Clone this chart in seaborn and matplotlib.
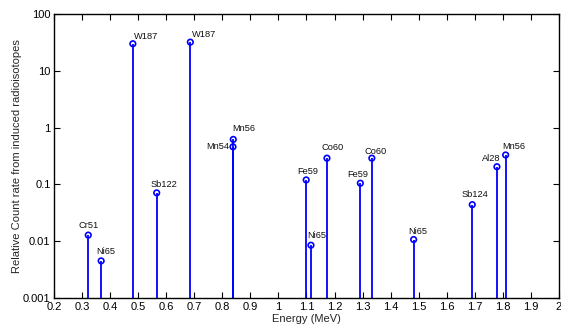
import numpy as np
import pandas as pd
import matplotlib
matplotlib.use('Agg')
import matplotlib.pyplot as plt
import matplotlib.ticker as mticker
import seaborn as sns

# gamma lines from induced radioisotopes
isotopes = ['Cr51', 'Ni65', 'W187', 'Sb122', 'W187', 'Mn54', 'Mn56', 'Fe59',
            'Ni65', 'Co60', 'Fe59', 'Co60', 'Ni65', 'Sb124', 'Al28', 'Mn56']
energy = [0.322, 0.368, 0.481, 0.566, 0.686, 0.838, 0.839, 1.099,
          1.116, 1.173, 1.292, 1.333, 1.482, 1.691, 1.779, 1.810]
rate = [0.0128, 0.0045, 30.0, 0.071, 32.0, 0.46, 0.62, 0.12,
        0.0085, 0.29, 0.105, 0.29, 0.0107, 0.044, 0.205, 0.33]

# label placement (pixel offsets from marker, alignment)
label_pos = [(0, 10, 'center'), (5, 9, 'center'), (13, 7, 'center'), (7, 8, 'center'),
             (14, 8, 'center'), (-4, 0, 'right'), (10, 11, 'center'), (2, 8, 'center'),
             (6, 10, 'center'), (6, 11, 'center'), (-3, 9, 'center'), (4, 7, 'center'),
             (4, 8, 'center'), (3, 10, 'center'), (-6, 8, 'center'), (8, 8, 'center')]

df = pd.DataFrame({'isotope': isotopes, 'energy': energy, 'rate': rate})

sns.set_style('ticks')
plt.rcParams['font.family'] = ['Liberation Sans', 'DejaVu Sans']
plt.rcParams['font.size'] = 8

fig = plt.figure(figsize=(5.61, 3.26), dpi=100)
ax = fig.add_axes([0.0963, 0.0859, 0.900, 0.871])

ymin = 0.001
ax.vlines(df['energy'], ymin, df['rate'], color='#0000ff', linewidth=1.3)
sns.scatterplot(data=df, x='energy', y='rate', ax=ax, marker='o', s=16,
                facecolor='none', edgecolor='#0000ff', linewidth=1.2, zorder=3)

for (name, e, r), (dx, dy, ha) in zip(zip(isotopes, energy, rate), label_pos):
    ax.annotate(name, (e, r), xytext=(dx, dy), textcoords='offset pixels',
                ha=ha, va='center', fontsize=6.7, color='#111111')

ax.set_yscale('log')
ax.set_xlim(0.2, 2.0)
ax.set_ylim(ymin, 100)
ax.xaxis.set_major_locator(mticker.MultipleLocator(0.1))
ax.xaxis.set_major_formatter(mticker.FormatStrFormatter('%g'))
ax.yaxis.set_major_locator(mticker.LogLocator(base=10, numticks=10))
ax.yaxis.set_minor_locator(mticker.NullLocator())
ax.yaxis.set_major_formatter(mticker.FuncFormatter(lambda v, p: '%g' % v))

ax.tick_params(which='both', direction='in', top=True, right=True, length=4,
               width=0.8, labelsize=8, colors='black')
ax.tick_params(axis='x', pad=3)
ax.tick_params(axis='y', pad=2.5)
for sp in ax.spines.values():
    sp.set_linewidth(1.0)
    sp.set_color('black')

ax.set_xlabel('Energy (MeV)', fontsize=8, labelpad=1)
ax.set_ylabel('Relative Count rate from induced radioisotopes', fontsize=8, labelpad=1)
if ax.legend_:
    ax.legend_.remove()

plt.savefig('out.png', dpi=100)
